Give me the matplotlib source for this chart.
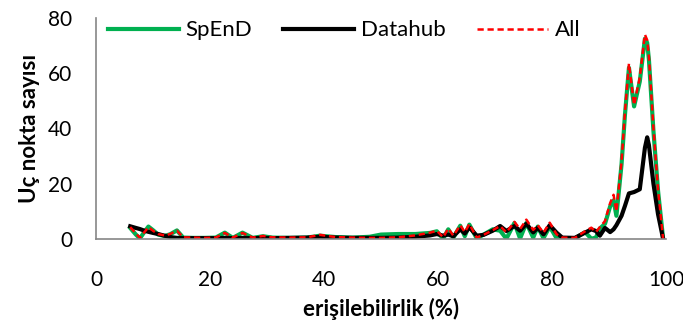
import matplotlib
matplotlib.use("Agg")
import matplotlib.pyplot as plt

plt.rcParams['font.family'] = ['Lato', 'DejaVu Sans']

# erisilebilirlik (%) noktalari
x = [6, 7, 7.7, 8.5, 9.2, 10, 10.9, 12, 13, 14.2, 15.3, 17, 19, 21, 22.6, 24, 25.7, 27.5, 29.3, 31,
     34, 37, 39.3, 42, 45, 48, 50, 53, 56, 58.6, 59.8, 60.9, 61.8, 62.7, 63.9, 64.7, 65.5, 66.8, 68, 69.6,
     70.9, 72, 73.4, 74.4, 75.5, 76.7, 77.5, 78.5, 79.6, 80.8, 81.8, 84, 85.8, 86.9, 87.7, 88.4, 89.3, 90.2, 90.8, 91.3,
     92.2, 92.8, 93.5, 94.4, 95.4, 96.3, 96.7, 97, 97.8, 98.6, 99.5]

all_y = [4.3, 2.0, 0.4, 2.5, 4.3, 3.0, 1.8, 1.3, 1.8, 3.0, 0.6, 0.5, 0.4, 0.5, 2.2, 0.5, 2.2, 0.5, 1.1, 0.6,
         0.5, 0.6, 1.5, 0.7, 0.5, 0.4, 0.4, 0.6, 1.3, 2.3, 3.0, 0.6, 3.8, 1.2, 5.0, 2.5, 5.4, 0.5, 1.5, 3.2,
         4.7, 2.4, 6.2, 3.6, 7.0, 3.3, 5.0, 2.3, 5.9, 1.7, 0.5, 0.4, 2.8, 4.1, 2.5, 4.3, 6.5, 13, 16, 10,
         28, 46, 63.5, 48.5, 58.5, 74, 72, 66, 40, 18, 0]

spend_y = [4.0, 1.6, 0.2, 2.6, 4.5, 3.2, 1.6, 1.1, 1.7, 3.1, 0.5, 0.4, 0.4, 0.5, 2.3, 0.4, 2.3, 0.4, 1.0, 0.5,
           0.4, 0.5, 1.2, 0.7, 0.5, 0.8, 1.6, 1.8, 1.8, 2.2, 2.8, 0.1, 3.5, 0.5, 4.8, 1.0, 5.2, 0.2, 1.6, 3.5,
           3.0, 0.1, 5.8, 0.2, 5.8, 0.5, 4.5, 0.3, 4.5, 0.3, 0.1, 0.2, 2.5, 0.1, 0.5, 3.8, 5.5, 11.8, 14, 8.4,
           27, 45, 62, 48, 57, 72.5, 71, 65, 39, 17.5, 0]

datahub_y = [4.6, 4.0, 3.6, 3.0, 2.6, 2.2, 1.8, 1.2, 0.7, 0.4, 0.3, 0.3, 0.3, 0.3, 0.4, 0.3, 0.4, 0.3, 0.4, 0.3,
             0.4, 0.5, 0.8, 0.5, 0.4, 0.4, 0.4, 0.5, 0.8, 1.3, 1.8, 1.2, 1.6, 1.0, 3.5, 2.0, 4.2, 1.2, 1.5, 3.0,
             4.7, 2.9, 4.7, 3.0, 5.5, 2.4, 4.1, 1.7, 5.0, 2.3, 0.5, 0.4, 2.3, 3.5, 2.9, 1.2, 4.0, 2.5, 3.5, 5.0,
             8.4, 12, 16.5, 17, 18, 33, 36.8, 34, 20, 9, 0]

fig = plt.figure(figsize=(6.83, 3.33), dpi=100)
ax = fig.add_axes([96/683, 1 - 239/333, 570/683, 221/333])

ax.plot(x, spend_y, color='#00B050', lw=3, label='SpEnD', solid_joinstyle='round')
ax.plot(x, datahub_y, color='black', lw=3, label='Datahub', solid_joinstyle='round')
ax.plot(x, all_y, color='#FF0000', lw=1.8, ls=(0, (2.5, 1.5)), label='All')

ax.set_xlim(0, 100)
ax.set_ylim(0, 80)
ax.set_xticks([0, 20, 40, 60, 80, 100])
ax.set_yticks([0, 20, 40, 60, 80])
ax.tick_params(length=0, labelsize=15)
ax.tick_params(axis='x', pad=22)
ax.tick_params(axis='y', pad=17)
for s in ['top', 'right']:
    ax.spines[s].set_visible(False)
for s in ['left', 'bottom']:
    ax.spines[s].set_color('#868686')
    ax.spines[s].set_linewidth(1.2)

ax.set_xlabel('erişilebilirlik (%)', fontsize=16, fontweight='bold', labelpad=6)
ax.set_ylabel('Uç nokta sayısı', fontsize=16, fontweight='bold', labelpad=6)

ax.legend(loc='upper center', bbox_to_anchor=(0.435, 1.08), ncol=3, frameon=False, fontsize=16,
          handlelength=3.2, columnspacing=1.4, handletextpad=0.3)

fig.savefig('out.png', dpi=100)
